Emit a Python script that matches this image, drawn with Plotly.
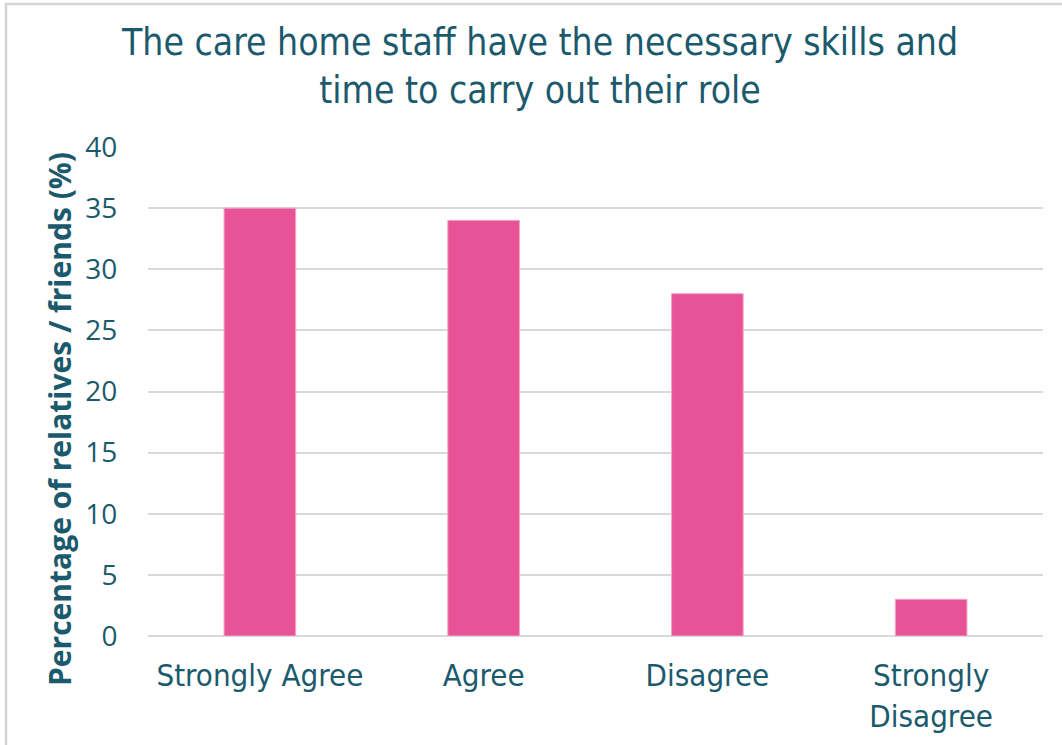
import plotly.graph_objects as go

categories = ["Strongly Agree", "Agree", "Disagree", "Strongly<br>Disagree"]
percentages = [35, 34, 28, 3]
y_ticks = [0, 5, 10, 15, 20, 25, 30, 35, 40]

TEAL = "#1B5A6D"
PINK = "#E85296"
GRID = "#D9D9D9"

W, H = 1062, 745
L, R, T, B = 148, 19, 147, 109
pw, ph = W - L - R, H - T - B


def px_x(x):
    return (x - L) / pw


def px_y(y):
    return 1 + (T - y) / ph


fig = go.Figure(
    go.Bar(
        x=categories,
        y=percentages,
        marker=dict(color=PINK, line=dict(color="#F4A3C6", width=1)),
        width=0.32,
    )
)

fig.update_layout(
    width=W,
    height=H,
    margin=dict(l=L, r=R, t=T, b=B),
    paper_bgcolor="white",
    plot_bgcolor="white",
    showlegend=False,
    font=dict(family="DejaVu Sans Condensed", color=TEAL),
    xaxis=dict(
        showgrid=False,
        showline=False,
        zeroline=False,
        ticks="outside",
        ticklen=12,
        tickcolor="rgba(0,0,0,0)",
        tickfont=dict(family="DejaVu Sans Condensed", size=31, color=TEAL),
    ),
    yaxis=dict(
        range=[0, 40],
        tickvals=y_ticks,
        showgrid=True,
        gridcolor=GRID,
        gridwidth=1.5,
        zeroline=True,
        zerolinecolor=GRID,
        zerolinewidth=1.5,
        showline=False,
        ticks="outside",
        ticklen=24,
        tickcolor="rgba(0,0,0,0)",
        tickfont=dict(family="Open Sans", size=28, color=TEAL),
    ),
    annotations=[
        dict(
            text="The care home staff have the necessary skills and<br>time to carry out their role",
            xref="paper", yref="paper",
            x=px_x(539), y=px_y(67),
            xanchor="center", yanchor="middle",
            showarrow=False,
            font=dict(family="DejaVu Sans Condensed", size=37, color=TEAL),
        ),
        dict(
            text="<b>Percentage of relatives / friends (%)</b>",
            xref="paper", yref="paper",
            x=px_x(59), y=px_y(419),
            xanchor="center", yanchor="middle",
            textangle=-90,
            showarrow=False,
            font=dict(family="Open Sans", size=30, color=TEAL),
        ),
    ],
    shapes=[
        dict(
            type="rect", xref="paper", yref="paper",
            x0=px_x(6), y0=px_y(760), x1=px_x(1075), y1=px_y(4),
            line=dict(color="#D4D4D4", width=2.5),
            fillcolor="rgba(0,0,0,0)",
            layer="below",
        )
    ],
)

fig.write_html("out.html")
